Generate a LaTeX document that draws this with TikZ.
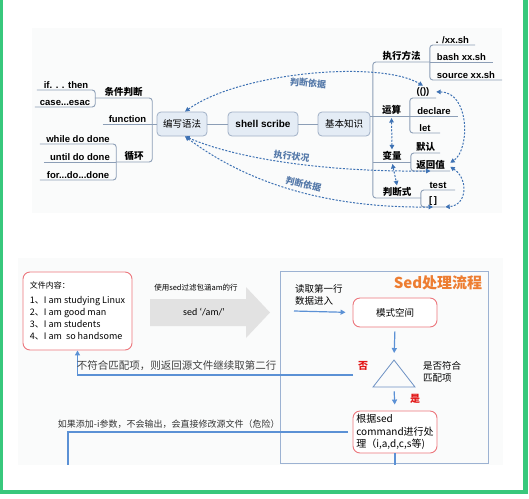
\documentclass[tikz,border=0pt]{standalone}
\usepackage{fontspec}
\setmainfont{Liberation Sans}
\newfontfamily\cjk{Noto Sans CJK SC}
\newfontfamily\lat{Carlito}
\usetikzlibrary{arrows.meta,shapes.geometric,positioning}
\definecolor{framegreen}{RGB}{56,200,124}
\definecolor{panelgray}{RGB}{250,251,251}
\definecolor{mmline}{RGB}{140,158,182}
\definecolor{boxfill}{RGB}{228,236,245}
\definecolor{boxline}{RGB}{160,176,198}
\definecolor{dashblue}{RGB}{62,114,180}
\definecolor{labelblue}{RGB}{86,122,170}
\definecolor{lineblue}{RGB}{91,145,213}
\definecolor{boxred}{RGB}{236,118,124}
\definecolor{procline}{RGB}{156,178,210}
\definecolor{triline}{RGB}{110,146,196}
\definecolor{titleorange}{RGB}{237,125,49}
\definecolor{arrowgray}{RGB}{226,226,226}
\definecolor{yesred}{RGB}{226,22,22}

\begin{document}
\begin{tikzpicture}[x=1pt,y=-1pt,
  mm/.style={draw=mmline,line width=0.9pt,rounded corners=3pt},
  leaf/.style={anchor=south,inner sep=1.5pt,font=\fontsize{9.5}{11}\selectfont\bfseries},
  cn/.style={leaf,font=\fontsize{9.5}{11}\selectfont\cjk\bfseries},
  topic/.style={rectangle,rounded corners=4pt,draw=boxline,fill=boxfill,line width=0.8pt,
                minimum height=24,inner sep=2pt,font=\fontsize{9.5}{11}\selectfont\cjk},
  dep/.style={draw=dashblue,line width=1pt,dash pattern=on 2pt off 1.5pt,
              {Triangle[length=4.5pt,width=4.5pt]}-{Triangle[length=4.5pt,width=4.5pt]}},
  deplabel/.style={font=\fontsize{9}{10}\selectfont\cjk\bfseries,text=labelblue,inner sep=1pt},
  redbox/.style={rectangle,rounded corners=7pt,draw=boxred,line width=0.9pt,fill=white,inner sep=3pt},
  flow/.style={draw=lineblue,line width=1.2pt,-{Triangle[length=5pt,width=5pt]}},
  plain/.style={draw=lineblue,line width=1.2pt},
  txt/.style={font=\fontsize{9.5}{12}\selectfont\cjk,inner sep=1pt},
  tri/.style={isosceles triangle,shape border rotate=90,isosceles triangle stretches,
              minimum width=42,minimum height=27,inner sep=0pt,draw=triline,line width=0.8pt}]
\useasboundingbox (0,0) rectangle (529,498);
\fill[panelgray] (32,28) rectangle (502,213);
\fill[panelgray] (18,258) rectangle (503,465);

\node[leaf,minimum width=58] (ifthen) at (66,90) {if. . . then};
\node[leaf,minimum width=60] (casesac) at (65,107) {case...esac};
\node[cn,minimum width=57] (tiaojian) at (123.5,98) {条件判断};
\node[leaf,minimum width=49] (func) at (127.5,124) {function};
\node[cn,minimum width=36] (xunhuan) at (134,162) {循环};
\node[leaf,minimum width=76] (whiledo) at (78,144) {while do done};
\node[leaf,minimum width=72] (untildo) at (80,162) {until do done};
\node[leaf,minimum width=76] (fordo) at (78,180) {for...do...done};

\node[topic,minimum width=50] (root) at (182,124) {编写语法};
\node[topic,minimum width=70,font=\fontsize{10}{11}\selectfont\bfseries] (shell) at (263,124) {shell scribe};
\node[topic,minimum width=52] (basic) at (344,124) {基本知识};

\node[cn,minimum width=57] (zhixing) at (401.5,62) {执行方法};
\node[leaf,minimum width=45] (dotxx) at (452.5,45) {. /xx.sh};
\node[leaf,minimum width=63] (bashxx) at (461.5,62) {bash xx.sh};
\node[leaf,minimum width=72] (srcxx) at (466,80) {source xx.sh};
\node[cn,minimum width=37] (yunsuan) at (391.5,116) {运算};
\node[leaf,minimum width=26] (pp) at (423,98) {(())};
\node[leaf,minimum width=48] (declare) at (434,116) {declare};
\node[leaf,minimum width=30] (let) at (425,133) {let};
\node[cn,minimum width=38] (bianliang) at (392,162) {变量};
\node[cn,minimum width=29] (moren) at (425.5,153) {默认};
\node[cn,minimum width=39] (ret) at (430.5,171) {返回值};
\node[cn,minimum width=48] (panduan) at (397,198) {判断式};
\node[leaf,minimum width=34] (test) at (438,190) {test};
\node[leaf,minimum width=24] (brk) at (433,207) {[\,]};

\draw[mm] (ifthen.south west) -- (ifthen.south east) -- (casesac.south east) -- (casesac.south west);
\draw[mm] (tiaojian.south west) -- (tiaojian.south east) -- (xunhuan.south east) -- (xunhuan.south west);
\draw[mm] (func.south west) -- (root.west);
\draw[mm] (whiledo.south west) -- (whiledo.south east) -- (fordo.south east) -- (fordo.south west);
\draw[mm] (untildo.south west) -- (untildo.south east);
\draw[mm] (root.east) -- (shell.west);
\draw[mm] (shell.east) -- (basic.west);
\draw[mm] (basic.east |- yunsuan.south west) -- (yunsuan.south west);
\draw[mm] (zhixing.south east) -- (zhixing.south west) -- (panduan.south west) -- (panduan.south east);
\draw[mm] (zhixing.south east) -- (bashxx.south east);
\draw[mm] (dotxx.south east) -- (dotxx.south west) -- (srcxx.south west) -- (srcxx.south east);
\draw[mm] (yunsuan.south west) -- (declare.south east);
\draw[mm] (pp.south east) -- (pp.south west) -- (let.south west) -- (let.south east);
\draw[mm] (bianliang.south west) -- (bianliang.south east);
\draw[mm] (moren.south east) -- (moren.south west) -- (ret.south west) -- (ret.south east);
\draw[mm] (test.south east) -- (test.south west) -- (brk.south west) -- (brk.south east);

\draw[dep] ([xshift=3pt]root.north) .. controls (240,72) and (380,60) .. (pp.north)
  node[deplabel,pos=.5,below=3pt,rotate=-4] {判断依据};
\draw[dep] ([xshift=3pt]root.south) .. controls (240,160) and (330,172) .. (ret.south)
  node[deplabel,pos=.5,sloped,above=1pt] {执行状况};
\draw[dep] ([xshift=3pt]root.south) .. controls (250,185) and (330,208) .. (brk.south)
  node[deplabel,pos=.53,above=2pt,rotate=-13] {判断依据};
\draw[dep,shorten <=2pt] (yunsuan.south) -- (bianliang.north);
\draw[dep,shorten <=2pt] (bianliang.south) -- (panduan.north);
\draw[dep] (pp.east) .. controls (470,92) and (470,150) .. ([yshift=2pt]ret.east);
\draw[dep] ([yshift=-2pt]ret.east) .. controls (468,178) and (468,205) .. (brk.south east);

\node[redbox,minimum width=109,minimum height=78,align=left,
      font=\fontsize{9}{12}\selectfont\cjk] (file) at (77.5,311)
  {{\fontsize{8}{10}\selectfont 文件内容：}\\[3pt]
   1、I am studying Linux\\2、I am good man\\3、I am students\\4、I am\ \ so handsome};
\fill[arrowgray] (150,299) -- (246,299) -- (246,287) -- (270,312.5) -- (246,338) -- (246,326)
  -- (150,326) -- cycle;
\node[font=\fontsize{10}{12}\selectfont\lat] (sedcmd) at (204,312.5) {sed ‘/am/’};
\node[font=\fontsize{7.5}{9}\selectfont\cjk] (sedlabel) at (196,288) {使用sed过滤包涵am的行};

\node[draw=procline,line width=0.8pt,minimum width=208,minimum height=192,anchor=north west,
      inner sep=0pt] (proc) at (280,271) {};
\node[font=\fontsize{15}{16}\selectfont\cjk\bfseries,text=titleorange] (title) at (438,283) {Sed处理流程};
\node[txt,align=left,anchor=north west] (readin) at (294,283) {读取第一行\\数据进入};
\node[redbox,minimum width=84,minimum height=29,txt] (pattern) at (395,312.5) {模式空间};
\coordinate (readstart) at (294,311);
\draw[flow,shorten >=7pt] (readstart) -- (pattern.west);
\node[tri,anchor=apex] (tri) at (394,359) {};
\draw[flow,shorten <=4pt,shorten >=6pt] (pattern.south) -- (tri.apex);
\node[txt,align=left,anchor=west] (ismatch) at (422,372) {是否符合\\匹配项};
\node[font=\fontsize{10}{12}\selectfont\cjk\bfseries,text=yesred] (no) at (363,366) {否};
\node[font=\fontsize{10}{12}\selectfont\cjk\bfseries,text=yesred] (yes) at (415,399) {是};
\node[redbox,minimum width=84,minimum height=42,align=left,
      font=\fontsize{10}{12.5}\selectfont\cjk] (cmd) at (395,432)
  {根据sed\\command进行处\\理（i,a,d,c,s等)};
\draw[flow,shorten <=4pt,shorten >=6pt] (tri.lower side) -- (cmd.north);

\coordinate (nostart) at (353,375);
\draw[flow] (nostart) -| (file.south)
  node[pos=.32,above=0pt,font=\fontsize{10.5}{12}\selectfont\cjk,text=black!75] {不符合匹配项，则返回源文件继续取第二行};
\coordinate (istart) at (348,432);
\coordinate (iend) at (68,465);
\draw[plain] (istart) -| (iend)
  node[pos=.32,above=0pt,font=\fontsize{9}{11}\selectfont\cjk,text=black!80] {如果添加-i参数，不会输出，会直接修改源文件（危险）};
\coordinate (cmdend) at (395,465);
\draw[plain] (cmd.south) -- (cmdend);

\fill[framegreen] (0,0) rectangle (2.5,494);
\fill[framegreen] (523,0) rectangle (528,494);
\fill[framegreen] (0,490) rectangle (528,494);
\end{tikzpicture}
\end{document}
